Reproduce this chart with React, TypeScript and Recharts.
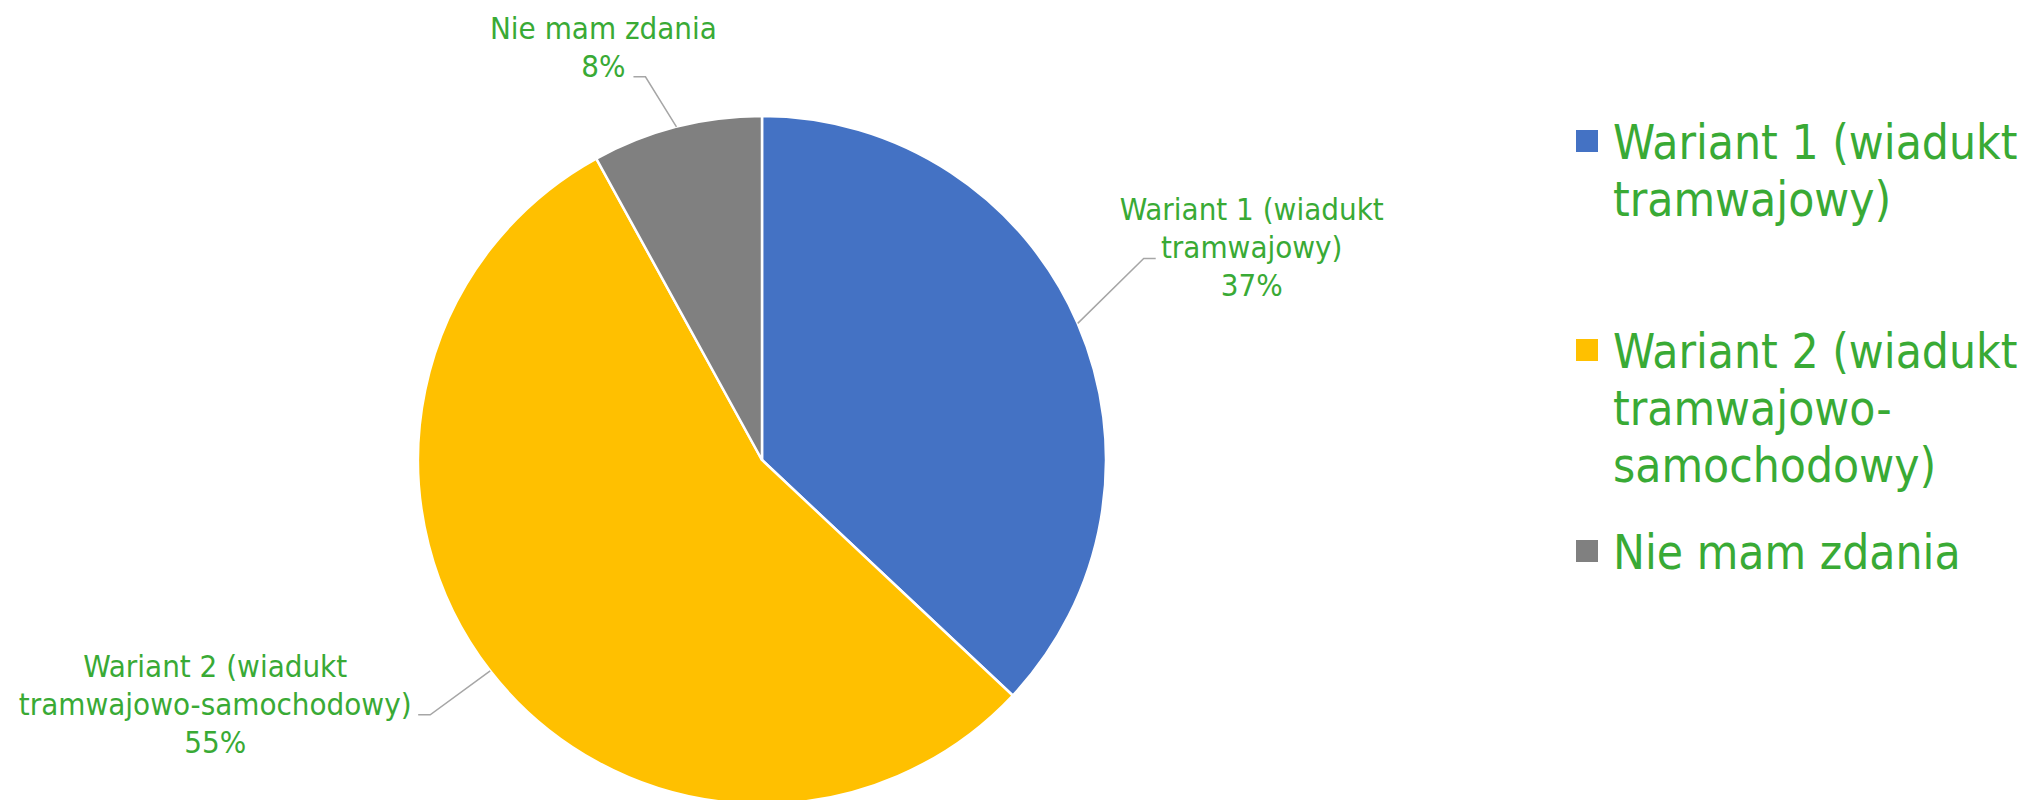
import { Cell, Legend, Pie, PieChart } from "recharts";

const categories = [
  "Wariant 1 (wiadukt tramwajowy)",
  "Wariant 2 (wiadukt tramwajowo-samochodowy)",
  "Nie mam zdania",
];
const shares = [37, 55, 8];
const sliceColors = ["#4472C4", "#FFC000", "#808080"];

// how the text wraps on the chart and in the legend
const labelLines = [
  ["Wariant 1 (wiadukt", "tramwajowy)"],
  ["Wariant 2 (wiadukt", "tramwajowo-samochodowy)"],
  ["Nie mam zdania"],
];
const legendLines = [
  ["Wariant 1 (wiadukt", "tramwajowy)"],
  ["Wariant 2 (wiadukt", "tramwajowo-", "samochodowy)"],
  ["Nie mam zdania"],
];

const FONT = "'DejaVu Sans Condensed', 'DejaVu Sans', sans-serif";
const TEXT_GREEN = "#39AA35";
const LEADER = "#A6A6A6";
const LABEL_LINE_HEIGHT = 38;

// leader line elbow offset from the slice edge, then text centre offset from the elbow
const LABEL_LAYOUT = [
  { elbowDx: 66, elbowDy: -65, textDx: 108 },
  { elbowDx: -60, elbowDy: 44, textDx: -215 },
  { elbowDx: -31, elbowDy: -50, textDx: -42 },
];
const LEGEND_GAPS = [0, 95, 30];

const chartData = categories.map((name, i) => ({ name, value: shares[i] }));

function renderLabel(props: any) {
  const { cx, cy, midAngle, outerRadius, percent, index } = props;
  const rad = (-midAngle * Math.PI) / 180;
  const x0 = cx + outerRadius * Math.cos(rad);
  const y0 = cy + outerRadius * Math.sin(rad);
  const layout = LABEL_LAYOUT[index];
  const x1 = x0 + layout.elbowDx;
  const y1 = y0 + layout.elbowDy;
  const side = layout.textDx > 0 ? 1 : -1;
  const x2 = x1 + side * 12;
  const lines = [...labelLines[index], `${Math.round(percent * 100)}%`];
  const tx = x1 + layout.textDx;
  const ty = y1 - LABEL_LINE_HEIGHT;

  return (
    <g key={`label-${index}`}>
      <polyline
        points={`${x0},${y0} ${x1},${y1} ${x2},${y1}`}
        fill="none"
        stroke={LEADER}
        strokeWidth={1.5}
      />
      <text x={tx} y={ty} textAnchor="middle" fill={TEXT_GREEN} fontFamily={FONT} fontSize={31}>
        {lines.map((line, i) => (
          <tspan key={i} x={tx} dy={i === 0 ? 0 : LABEL_LINE_HEIGHT}>
            {line}
          </tspan>
        ))}
      </text>
    </g>
  );
}

function LegendContent() {
  return (
    <div
      style={{
        fontFamily: FONT,
        fontSize: 47.5,
        lineHeight: "57px",
        color: TEXT_GREEN,
        whiteSpace: "nowrap",
      }}
    >
      {categories.map((name, i) => (
        <div key={name} style={{ display: "flex", marginTop: LEGEND_GAPS[i] }}>
          <div
            style={{
              width: 22,
              height: 22,
              background: sliceColors[i],
              marginTop: 16,
              marginRight: 15,
              flex: "none",
            }}
          />
          <div>
            {legendLines[i].map((line) => (
              <div key={line}>{line}</div>
            ))}
          </div>
        </div>
      ))}
    </div>
  );
}

export default function App() {
  return (
    <div style={{ width: 2024, height: 800, background: "#fff" }}>
      <style>{"body{margin:0}"}</style>
      <PieChart width={2024} height={800} margin={{ top: 0, right: 0, bottom: 0, left: 0 }}>
        <Pie
          data={chartData}
          dataKey="value"
          nameKey="name"
          cx={762}
          cy={460}
          outerRadius={344}
          startAngle={90}
          endAngle={-270}
          stroke="#fff"
          strokeWidth={2.5}
          label={renderLabel}
          labelLine={false}
          isAnimationActive={false}
        >
          {chartData.map((entry, i) => (
            <Cell key={entry.name} fill={sliceColors[i]} />
          ))}
        </Pie>
        <Legend
          content={<LegendContent />}
          wrapperStyle={{ left: 1576, top: 114, width: 448 }}
        />
      </PieChart>
    </div>
  );
}
